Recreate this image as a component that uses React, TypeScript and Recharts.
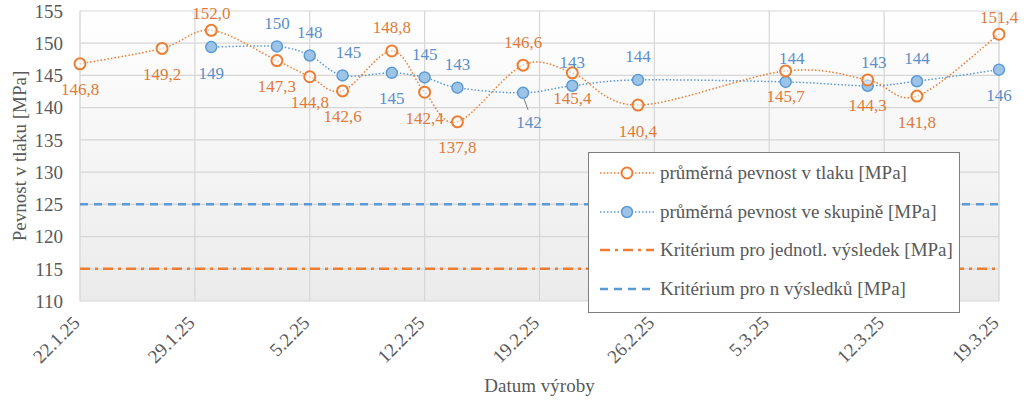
import React from 'react';
import { LineChart, Line, XAxis, YAxis, CartesianGrid, Legend, LabelList, Label } from 'recharts';

// ---- data ----
const axisDates = ['22.1.25', '29.1.25', '5.2.25', '12.2.25', '19.2.25', '26.2.25', '5.3.25', '12.3.25', '19.3.25'];
const yTicks = [110, 115, 120, 125, 130, 135, 140, 145, 150, 155];

const tlakDates = ['22.1.25', '27.1.25', '30.1.25', '3.2.25', '5.2.25', '7.2.25', '10.2.25', '12.2.25', '14.2.25', '18.2.25', '21.2.25', '25.2.25', '6.3.25', '11.3.25', '14.3.25', '19.3.25'];
const tlakValues = [146.8, 149.2, 152.0, 147.3, 144.8, 142.6, 148.8, 142.4, 137.8, 146.6, 145.4, 140.4, 145.7, 144.3, 141.8, 151.4];

const skupinaDates = ['30.1.25', '3.2.25', '5.2.25', '7.2.25', '10.2.25', '12.2.25', '14.2.25', '18.2.25', '21.2.25', '25.2.25', '6.3.25', '11.3.25', '14.3.25', '19.3.25'];
const skupinaValues = [149.4, 149.5, 148.1, 145.0, 145.4, 144.7, 143.1, 142.3, 143.4, 144.3, 144.0, 143.4, 144.1, 145.9];

const kriteriumJednotl = 115;
const kriteriumN = 125;

const seriesNames = [
  'průměrná pevnost v tlaku [MPa]',
  'průměrná pevnost ve skupině [MPa]',
  'Kritérium pro jednotl. výsledek [MPa]',
  'Kritérium pro n výsledků [MPa]',
];

// label placement (a = above, at = above tight, b = below, ar = above right, bl = below with leader)
const tlakLabelPlace = ['b', 'b', 'at', 'b', 'b', 'b', 'a', 'b', 'b', 'a', 'b', 'b', 'b', 'b', 'b', 'at'];
const skupinaLabelPlace = ['b', 'a', 'a', 'ar', 'b', 'a', 'a', 'bl', 'a', 'a', 'ar', 'ar', 'a', 'b'];

// ---- helpers ----
const ORANGE = '#ED7D31';
const BLUE = '#5B9BD5';
const TEXT = '#595959';
const FONT = '"Liberation Serif", "Times New Roman", serif';

const dayIndex = (s: string) => {
  const [d, m, y] = s.split('.').map(Number);
  const [d0, m0, y0] = axisDates[0].split('.').map(Number);
  return Math.round((Date.UTC(2000 + y, m - 1, d) - Date.UTC(2000 + y0, m0 - 1, d0)) / 86400000);
};

const lastDay = dayIndex(axisDates[axisDates.length - 1]);
const weekTicks = axisDates.map(dayIndex);
const allDays = Array.from({ length: lastDay + 1 }, (_, i) => i);

const tlakData = tlakDates.map((d, i) => ({ day: dayIndex(d), value: tlakValues[i] }));
const skupinaData = skupinaDates.map((d, i) => ({ day: dayIndex(d), value: skupinaValues[i] }));
const jednData = [0, lastDay].map((d) => ({ day: d, value: kriteriumJednotl }));
const nData = [0, lastDay].map((d) => ({ day: d, value: kriteriumN }));

// Excel-like smoothing (Catmull-Rom converted to cubic Bezier)
const excelSmooth = (context: any) => {
  let pts: number[][] = [];
  return {
    areaStart() {},
    areaEnd() {},
    lineStart() {
      pts = [];
    },
    point(x: number, y: number) {
      pts.push([+x, +y]);
    },
    lineEnd() {
      const n = pts.length;
      if (!n) return;
      context.moveTo(pts[0][0], pts[0][1]);
      for (let i = 0; i < n - 1; i++) {
        const p0 = pts[i - 1] || pts[i];
        const p1 = pts[i];
        const p2 = pts[i + 1];
        const p3 = pts[i + 2] || p2;
        context.bezierCurveTo(
          p1[0] + (p2[0] - p0[0]) / 6,
          p1[1] + (p2[1] - p0[1]) / 6,
          p2[0] - (p3[0] - p1[0]) / 6,
          p2[1] - (p3[1] - p1[1]) / 6,
          p2[0],
          p2[1]
        );
      }
    },
  };
};

const makeLabel = (places: string[], color: string, fmt: (v: number) => string) => (props: any) => {
  const { x, y, value, index } = props;
  if (x == null || y == null) return null;
  const p = places[index] || 'a';
  const below = p === 'b' || p === 'bl';
  const dx = p === 'ar' ? 6 : p === 'bl' ? 6 : 0;
  const dy = below ? (p === 'bl' ? 30 : 26) : p === 'at' ? -17 : -23;
  return (
    <g>
      {p === 'bl' && <line x1={x + 1} y1={y + 6} x2={x + 5} y2={y + 17} stroke="#7f7f7f" strokeWidth={1} />}
      <text
        x={x + dx}
        y={y + dy}
        textAnchor="middle"
        dominantBaseline="central"
        fill={color}
        fontSize={17}
        fontFamily={FONT}
      >
        {fmt(value)}
      </text>
    </g>
  );
};

const tlakLabel = makeLabel(tlakLabelPlace, '#E07B39', (v) => v.toFixed(1).replace('.', ','));
const skupinaLabel = makeLabel(skupinaLabelPlace, '#5B8FC9', (v) => String(Math.round(v)));

const XTick = (props: any) => {
  const { x, y, payload } = props;
  const idx = weekTicks.indexOf(payload.value);
  return (
    <text
      transform={`translate(${x + 1},${y + 23}) rotate(-45)`}
      textAnchor="end"
      fill={TEXT}
      fontSize={19}
      fontFamily={FONT}
    >
      {idx >= 0 ? axisDates[idx] : ''}
    </text>
  );
};

const legendIcons = [
  (
    <svg width={54} height={16} key="i0">
      <line x1={0} y1={8} x2={54} y2={8} stroke={ORANGE} strokeWidth={1.5} strokeDasharray="1.5 2" />
      <circle cx={27} cy={8} r={5.5} fill="#ffffff" stroke={ORANGE} strokeWidth={2} />
    </svg>
  ),
  (
    <svg width={54} height={16} key="i1">
      <line x1={0} y1={8} x2={54} y2={8} stroke={BLUE} strokeWidth={1.5} strokeDasharray="1.5 2" />
      <circle cx={27} cy={8} r={5.5} fill="#9DC3E6" stroke={BLUE} strokeWidth={1.5} />
    </svg>
  ),
  (
    <svg width={54} height={16} key="i2">
      <line x1={0} y1={8} x2={54} y2={8} stroke={ORANGE} strokeWidth={2.5} strokeDasharray="10 5 3 5" />
    </svg>
  ),
  (
    <svg width={54} height={16} key="i3">
      <line x1={0} y1={8} x2={54} y2={8} stroke={BLUE} strokeWidth={2.5} strokeDasharray="8 6" />
    </svg>
  ),
];

const LegendBox = () => (
  <div
    style={{
      border: '1.5px solid #7f7f7f',
      background: '#ffffff',
      width: 372,
      boxSizing: 'border-box',
      padding: '1px 0 4px 0',
      fontFamily: FONT,
      fontSize: 19,
      color: TEXT,
    }}
  >
    {seriesNames.map((name, i) => (
      <div key={name} style={{ display: 'flex', alignItems: 'center', height: 38.5, paddingLeft: 11 }}>
        {legendIcons[i]}
        <span style={{ marginLeft: 6, whiteSpace: 'nowrap' }}>{name}</span>
      </div>
    ))}
  </div>
);

export default function App() {
  return (
    <div style={{ position: 'absolute', left: 0, top: 0, width: 1024, height: 410, background: '#ffffff' }}>
      <LineChart width={1024} height={410} margin={{ top: 11, right: 25, bottom: 0, left: 0 }}>
        <defs>
          <linearGradient id="plotBg" x1="0" y1="0" x2="0" y2="1">
            <stop offset="0%" stopColor="#ffffff" />
            <stop offset="100%" stopColor="#ebebeb" />
          </linearGradient>
        </defs>
        <XAxis
          xAxisId="weeks"
          dataKey="day"
          type="number"
          domain={[0, lastDay]}
          ticks={weekTicks}
          interval={0}
          height={109}
          tickSize={0}
          tickMargin={0}
          axisLine={false}
          tickLine={false}
          tick={<XTick />}
        >
          <Label
            content={(p: any) => {
              const vb = p.viewBox || {};
              return (
                <text
                  x={vb.x + vb.width / 2}
                  y={vb.y + 91}
                  textAnchor="middle"
                  fill={TEXT}
                  fontSize={19}
                  fontFamily={FONT}
                >
                  Datum výroby
                </text>
              );
            }}
          />
        </XAxis>
        <XAxis
          xAxisId="days"
          dataKey="day"
          type="number"
          orientation="top"
          height={0}
          domain={[0, lastDay]}
          ticks={allDays}
          hide
        />
        <YAxis
          type="number"
          domain={[110, 155]}
          ticks={yTicks}
          width={80}
          tickSize={0}
          tickMargin={17}
          axisLine={false}
          tickLine={false}
          tick={{ fill: TEXT, fontSize: 19, fontFamily: FONT }}
        >
          <Label
            content={(p: any) => {
              const vb = p.viewBox || {};
              const cx = vb.x + 19;
              const cy = vb.y + vb.height / 2;
              return (
                <text
                  x={cx}
                  y={cy}
                  transform={`rotate(-90, ${cx}, ${cy})`}
                  textAnchor="middle"
                  dominantBaseline="central"
                  fill={TEXT}
                  fontSize={19}
                  fontFamily={FONT}
                >
                  Pevnost v tlaku [MPa]
                </text>
              );
            }}
          />
        </YAxis>
        <CartesianGrid
          xAxisId="days"
          horizontal={false}
          vertical
          stroke="#ededed"
          strokeWidth={1}
          fill="url(#plotBg)"
        />
        <CartesianGrid xAxisId="weeks" stroke="#d6d6d6" strokeWidth={1.2} />
        <Legend
          layout="vertical"
          align="center"
          verticalAlign="middle"
          wrapperStyle={{ left: 588, top: 152, width: 372 }}
          content={() => <LegendBox />}
        />
        <Line
          xAxisId="weeks"
          name={seriesNames[2]}
          data={jednData}
          dataKey="value"
          stroke={ORANGE}
          strokeWidth={2.5}
          strokeDasharray="10 5 3 5"
          dot={false}
          activeDot={false}
          isAnimationActive={false}
        />
        <Line
          xAxisId="weeks"
          name={seriesNames[3]}
          data={nData}
          dataKey="value"
          stroke={BLUE}
          strokeWidth={2.5}
          strokeDasharray="8 6"
          dot={false}
          activeDot={false}
          isAnimationActive={false}
        />
        <Line
          xAxisId="weeks"
          name={seriesNames[1]}
          data={skupinaData}
          dataKey="value"
          type={excelSmooth as any}
          stroke={BLUE}
          strokeWidth={1.5}
          strokeDasharray="1.5 2"
          dot={{ r: 5.5, fill: '#9DC3E6', stroke: BLUE, strokeWidth: 1.5, strokeDasharray: '' }}
          activeDot={false}
          isAnimationActive={false}
        >
          <LabelList dataKey="value" content={skupinaLabel} />
        </Line>
        <Line
          xAxisId="weeks"
          name={seriesNames[0]}
          data={tlakData}
          dataKey="value"
          type={excelSmooth as any}
          stroke={ORANGE}
          strokeWidth={1.5}
          strokeDasharray="1.5 2"
          dot={{ r: 5.5, fill: '#ffffff', fillOpacity: 0.55, stroke: ORANGE, strokeWidth: 2, strokeDasharray: '' }}
          activeDot={false}
          isAnimationActive={false}
        >
          <LabelList dataKey="value" content={tlakLabel} />
        </Line>
      </LineChart>
    </div>
  );
}
